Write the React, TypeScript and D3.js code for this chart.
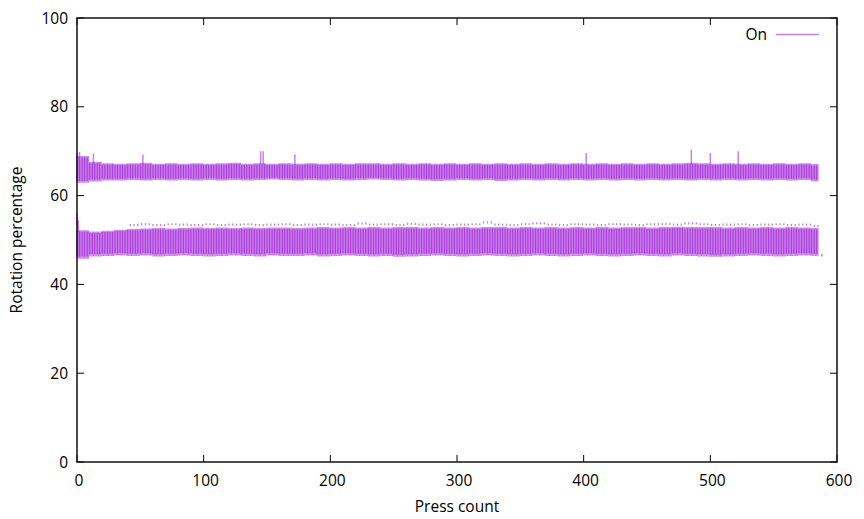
import React from "react";
import * as d3 from "d3";

// ---- data (buckets of 10 presses) ----
const bucketStart: number[] = d3.range(0, 590, 10); // 59 buckets: 0..580
const lastPress = 585;

const lowerMin: number[] = [46.3,46.8,46.9,47.0,46.9,47.0,46.8,46.9,47.0,46.9,46.8,46.9,47.0,46.9,46.8,47.0,46.9,46.9,47.0,46.8,46.9,47.0,46.9,46.8,46.9,46.7,46.8,46.9,47.0,46.9,46.8,46.9,47.0,46.9,46.8,46.9,47.0,46.9,46.8,46.9,47.0,46.9,46.8,46.9,47.0,46.9,46.8,47.0,46.9,46.8,46.7,46.8,46.9,47.0,46.9,46.8,46.9,47.0,46.9];
const lowerMax: number[] = [51.9,51.6,51.8,52.0,52.2,52.3,52.4,52.3,52.4,52.5,52.4,52.5,52.4,52.5,52.4,52.5,52.5,52.4,52.5,52.6,52.5,52.6,52.5,52.6,52.5,52.6,52.6,52.5,52.6,52.5,52.6,52.5,52.6,52.6,52.5,52.6,52.5,52.6,52.5,52.6,52.5,52.6,52.5,52.6,52.6,52.5,52.6,52.7,52.6,52.6,52.6,52.5,52.6,52.5,52.6,52.5,52.6,52.5,52.4];
const lowerPeak: number[] = [52.0,51.8,52.0,52.2,53.6,53.8,53.6,53.8,53.7,53.6,53.8,53.6,53.7,53.8,53.6,53.7,53.8,53.6,53.7,53.8,53.7,53.6,54.0,53.7,53.8,53.6,53.9,53.7,53.8,53.6,53.7,53.8,54.2,53.7,53.6,53.8,54.0,53.7,53.6,53.8,53.7,53.6,53.8,53.7,53.6,53.8,53.9,53.7,54.0,53.8,53.6,53.7,53.8,53.6,53.7,53.8,53.6,53.7,53.4];
const upperMin: number[] = [63.3,63.6,63.8,63.8,63.9,63.8,63.9,63.8,63.9,63.8,63.9,63.8,63.9,63.8,63.9,64.0,63.9,63.8,63.9,63.8,63.9,63.8,63.9,64.0,63.9,63.8,63.9,63.8,63.7,63.8,63.9,63.8,63.9,63.7,63.8,63.9,63.8,63.9,63.8,63.9,63.8,63.9,63.8,63.9,63.8,63.9,63.8,63.9,63.8,63.9,63.8,63.9,63.8,63.9,63.8,63.9,63.8,63.9,63.6];
const upperMax: number[] = [68.6,67.3,67.0,66.9,67.0,67.1,66.9,67.0,66.9,67.0,66.9,67.0,67.1,66.9,67.0,66.9,67.0,66.9,67.0,66.9,67.0,66.9,67.0,67.0,66.9,67.0,66.9,67.0,66.9,67.0,66.9,67.0,66.9,67.0,66.9,67.0,66.9,67.0,66.9,67.0,66.9,67.0,66.9,67.0,66.9,67.0,66.9,67.0,67.1,67.0,66.9,67.0,66.9,67.0,66.9,67.0,66.9,67.0,66.8];

// isolated spikes [press, value]
const upperSpikes: [number, number][] = [[0,69.6],[2,69.8],[13,69.5],[52,69.2],[145,70.0],[147,70.0],[172,69.3],[402,69.6],[485,70.3],[500,69.6],[522,70.0]];
const lowerSpikes: [number, number][] = [[0,56.0],[1,54.5]];
const strayPoints: [number, number][] = [[588,46.6]];

const xTicks: number[] = [0, 100, 200, 300, 400, 500, 600];
const yTicks: number[] = [0, 20, 40, 60, 80, 100];
const seriesName = "On";

const W = 864, H = 519;
const M = { left: 77, right: 837, top: 18, bottom: 462 };
const COLOR = "#9400d3";
const FONT = "'Open Sans', 'Noto Sans', sans-serif";

export default function App() {
  const x = d3.scaleLinear().domain([0, 600]).range([M.left, M.right]);
  const y = d3.scaleLinear().domain([0, 100]).range([M.bottom, M.top]);

  const presses = d3.range(0, lastPress + 1);
  const b = (p: number) => Math.min(bucketStart.length - 1, Math.floor(p / 10));

  const lines: React.ReactNode[] = [];
  presses.forEach((p) => {
    const i = b(p);
    const px = x(p);
    // light envelope
    lines.push(<line key={`lf${p}`} x1={px} x2={px} y1={y(lowerMin[i] - 0.5)} y2={y(lowerMax[i] + 0.3)} stroke={COLOR} strokeOpacity={0.5} strokeWidth={1.2} />);
    lines.push(<line key={`uf${p}`} x1={px} x2={px} y1={y(upperMin[i] - 0.4)} y2={y(upperMax[i] + 0.3)} stroke={COLOR} strokeOpacity={0.5} strokeWidth={1.2} />);
    if (p % 2 === 0) {
      lines.push(<line key={`lc${p}`} x1={px} x2={px} y1={y(lowerMin[i])} y2={y(lowerMax[i])} stroke={COLOR} strokeOpacity={0.5} strokeWidth={1.6} />);
      lines.push(<line key={`uc${p}`} x1={px} x2={px} y1={y(upperMin[i])} y2={y(upperMax[i])} stroke={COLOR} strokeOpacity={0.5} strokeWidth={1.6} />);
    }
    if (p % 3 === 0 && lowerPeak[i] > lowerMax[i] + 0.5) {
      lines.push(<line key={`lp${p}`} x1={px} x2={px} y1={y(lowerPeak[i] - 0.5)} y2={y(lowerPeak[i])} stroke={COLOR} strokeOpacity={0.5} strokeWidth={1.3} />);
    }
  });

  upperSpikes.forEach(([p, v], k) => {
    const i = b(p);
    lines.push(<line key={`us${k}`} x1={x(p)} x2={x(p)} y1={y(upperMax[i])} y2={y(v)} stroke={COLOR} strokeOpacity={0.5} strokeWidth={1.5} />);
  });
  lowerSpikes.forEach(([p, v], k) => {
    const i = b(p);
    lines.push(<line key={`ls${k}`} x1={x(p)} x2={x(p)} y1={y(lowerMax[i])} y2={y(v)} stroke={COLOR} strokeOpacity={0.5} strokeWidth={1.5} />);
  });
  strayPoints.forEach(([p, v], k) => {
    lines.push(<line key={`sp${k}`} x1={x(p)} x2={x(p)} y1={y(v - 0.3)} y2={y(v + 0.3)} stroke={COLOR} strokeOpacity={0.5} strokeWidth={1.5} />);
  });

  const tickLen = 7;

  return (
    <svg width={W} height={H} style={{ position: "absolute", left: 0, top: 0, background: "#fff" }} fontFamily={FONT}>
      <rect x={0} y={0} width={W} height={H} fill="#fff" />
      <g>{lines}</g>
      {/* ticks */}
      {xTicks.map((t) => (
        <g key={`xt${t}`}>
          <line x1={x(t)} x2={x(t)} y1={M.bottom} y2={M.bottom - tickLen} stroke="#000" strokeWidth={1} />
          <line x1={x(t)} x2={x(t)} y1={M.top} y2={M.top + tickLen} stroke="#000" strokeWidth={1} />
          <text x={x(t) + 2} y={486} fontSize={15.5} textAnchor="middle" fill="#000">{t}</text>
        </g>
      ))}
      {yTicks.map((t) => (
        <g key={`yt${t}`}>
          <line x1={M.left} x2={M.left + tickLen} y1={y(t)} y2={y(t)} stroke="#000" strokeWidth={1} />
          <line x1={M.right} x2={M.right - tickLen} y1={y(t)} y2={y(t)} stroke="#000" strokeWidth={1} />
          <text x={68} y={y(t) + 5.5} fontSize={15.5} textAnchor="end" fill="#000">{t}</text>
        </g>
      ))}
      <rect x={M.left} y={M.top} width={M.right - M.left} height={M.bottom - M.top} fill="none" stroke="#111" strokeWidth={1.5} />
      {/* labels */}
      <text x={457} y={512} fontSize={15.5} textAnchor="middle" fill="#000">Press count</text>
      <text transform={`translate(22,240) rotate(-90)`} fontSize={15.5} textAnchor="middle" fill="#000">Rotation percentage</text>
      {/* legend */}
      <text x={767} y={40} fontSize={15.5} textAnchor="end" fill="#000">{seriesName}</text>
      <line x1={776} x2={819} y1={34.5} y2={34.5} stroke={COLOR} strokeOpacity={0.5} strokeWidth={1.5} />
    </svg>
  );
}
